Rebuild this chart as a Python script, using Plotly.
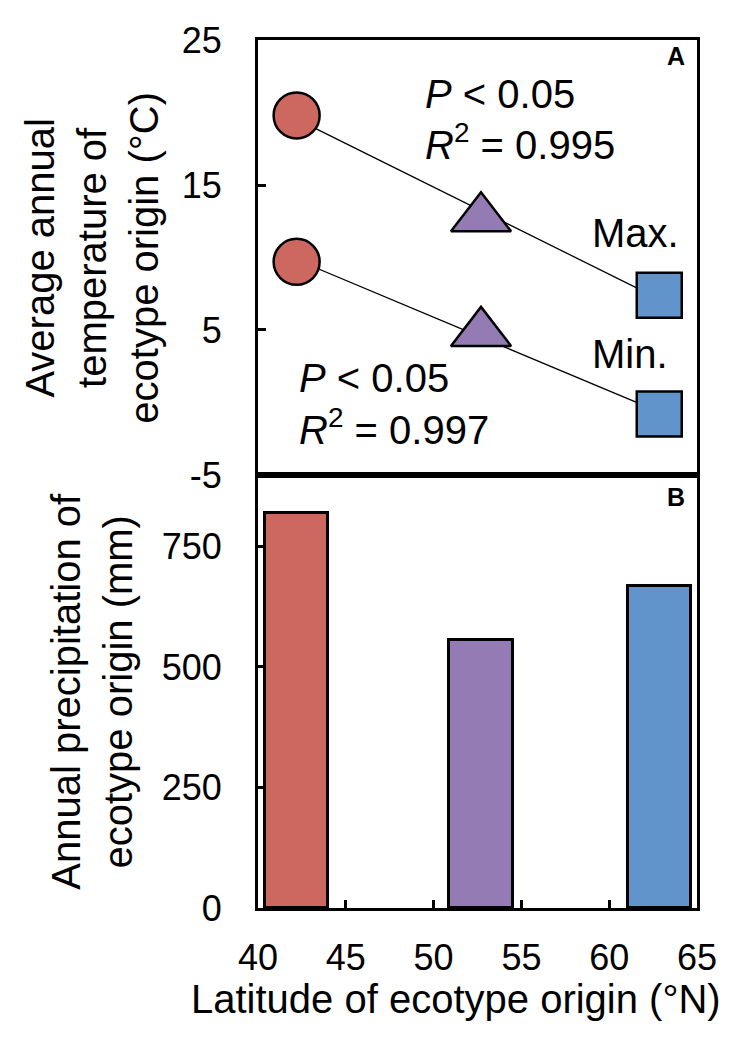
import numpy as np
import plotly.graph_objects as go
from plotly.subplots import make_subplots

# ---- data ----
latitude = [42.2, 52.7, 62.85]          # °N of ecotype origin
temp_max = [19.8, 12.7, 7.4]            # °C
temp_min = [9.7, 4.8, -0.8]             # °C
precip = [819, 556, 668]                # mm
colors = ["#CD6860", "#957BB3", "#6094CA"]
symbols = ["circle", "triangle-up", "square"]
marker_sizes = [46, 52, 45]
x_ticks = [40, 45, 50, 55, 60, 65]
temp_ticks = [-5, 5, 15, 25]
temp_tick_text = ["-5", "5", "15", "25"]
precip_ticks = [0, 250, 500, 750]

FONT = "Liberation Sans, Arial, sans-serif"

fig = make_subplots(rows=2, cols=1, vertical_spacing=0)

# trend lines (least-squares fit of each series)
lat = np.array(latitude)
for series in (temp_max, temp_min):
    slope, intercept = np.polyfit(lat, np.array(series), 1)
    xs = [lat.min(), lat.max()]
    fig.add_trace(go.Scatter(x=xs, y=[slope * v + intercept for v in xs], mode="lines",
                             line=dict(color="black", width=1.3), showlegend=False,
                             hoverinfo="skip"), row=1, col=1)

for series in (temp_max, temp_min):
    fig.add_trace(go.Scatter(
        x=latitude, y=series, mode="markers",
        marker=dict(color=colors, symbol=symbols, size=marker_sizes, opacity=1,
                    line=dict(color="black", width=2.5)),
        showlegend=False), row=1, col=1)

fig.add_trace(go.Bar(x=latitude, y=precip, width=3.6,
                     marker=dict(color=colors, line=dict(color="black", width=3)),
                     showlegend=False), row=2, col=1)

axis_common = dict(showline=True, linecolor="black", linewidth=3, mirror=True,
                   showgrid=False, zeroline=False, ticks="inside", ticklen=8,
                   tickwidth=3, tickcolor="black",
                   tickfont=dict(family=FONT, size=36, color="black"))

split = 440 / 878
fig.update_xaxes(**axis_common)
fig.update_yaxes(**axis_common)
fig.update_layout(
    xaxis=dict(range=[40, 65], tickvals=x_ticks, ticks="", showticklabels=False,
               domain=[0, 1], anchor="y"),
    yaxis=dict(range=[-5, 25], tickvals=temp_ticks, ticktext=temp_tick_text,
               domain=[1 - split, 1], ticklabelstandoff=26),
    xaxis2=dict(range=[40, 65], tickvals=x_ticks, domain=[0, 1], anchor="y2",
                ticklabelstandoff=16),
    yaxis2=dict(range=[0, 898], tickvals=precip_ticks, domain=[0, 1 - split],
                ticklabelstandoff=26),
)

ann_font = dict(family=FONT, size=40, color="black")
annotations = [
    dict(text="<i>P</i> < 0.05", x=49.4, y=21.25, xref="x", yref="y"),
    dict(text="<i>R</i><sup>2</sup> = 0.995", x=49.4, y=17.98, xref="x", yref="y"),
    dict(text="<i>P</i> < 0.05", x=42.22, y=1.69, xref="x", yref="y"),
    dict(text="<i>R</i><sup>2</sup> = 0.997", x=42.22, y=-1.72, xref="x", yref="y"),
    dict(text="Max.", x=58.91, y=11.71, xref="x", yref="y"),
    dict(text="Min.", x=58.91, y=3.32, xref="x", yref="y"),
]
for a in annotations:
    fig.add_annotation(showarrow=False, xanchor="left", yanchor="middle", font=ann_font, **a)

panel_font = dict(family=FONT, size=25, color="black")
fig.add_annotation(text="<b>A</b>", x=0.952, y=0.981, xref="paper", yref="paper",
                   xanchor="center", yanchor="middle", showarrow=False, font=panel_font)
fig.add_annotation(text="<b>B</b>", x=0.952, y=0.4735, xref="paper", yref="paper",
                   xanchor="center", yanchor="middle", showarrow=False, font=panel_font)

title_font = dict(family=FONT, size=40, color="black")
fig.add_annotation(text="Average annual<br>temperature of<br>ecotype origin (°C)",
                   x=-0.380, y=0.7494, xref="paper", yref="paper", textangle=-90,
                   xanchor="center", yanchor="middle", showarrow=False, font=title_font)
fig.add_annotation(text="Annual precipitation of<br>ecotype origin (mm)",
                   x=-0.380, y=0.2494, xref="paper", yref="paper", textangle=-90,
                   xanchor="center", yanchor="middle", showarrow=False, font=title_font)
fig.add_annotation(text="Latitude of ecotype origin (°N)",
                   x=0.451, y=-0.1048, xref="paper", yref="paper",
                   xanchor="center", yanchor="middle", showarrow=False, font=title_font)

# the page body adds an 8px offset; margins compensate so the plot area lands at
# x 258..697, y 30..908 in the window
fig.update_layout(width=739, height=1040, margin=dict(l=250, r=50, t=22, b=140),
                  paper_bgcolor="white", plot_bgcolor="white", bargap=0)

fig.write_html("out.html")
